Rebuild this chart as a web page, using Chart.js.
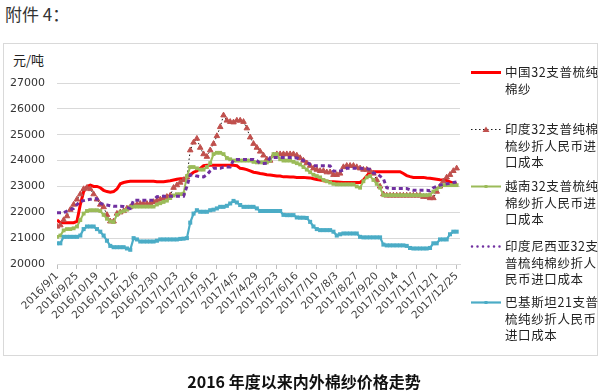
<!DOCTYPE html>
<html><head><meta charset="utf-8">
<script src="https://cdn.jsdelivr.net/npm/chart.js@4.4.0/dist/chart.umd.min.js"></script>
<style>
html,body{margin:0;padding:0;background:#fff;width:601px;height:392px;overflow:hidden;}
#wrap{position:relative;width:601px;height:392px;}
#title{position:absolute;left:5px;top:1px;font:17px "Noto Sans CJK SC";color:#333;white-space:nowrap;}
#box{position:absolute;left:3px;top:43px;width:595px;height:313px;border:1px solid #d9d9d9;box-sizing:border-box;}
#unit{position:absolute;left:13px;top:50px;font:13px "Noto Sans CJK SC";color:#222;}
#chart{position:absolute;left:0;top:0;}
.leg{position:absolute;left:470px;font:12.5px "Noto Sans CJK SC";color:#222;line-height:16.5px;letter-spacing:0.6px;white-space:nowrap;}
.leg svg{position:absolute;left:0;top:4px;}
.leg .t{position:absolute;left:35px;top:0;}
#cap{position:absolute;left:0;width:608px;top:369px;text-align:center;font:bold 16px "Noto Sans CJK SC";color:#111;white-space:nowrap;}
</style></head>
<body><div id="wrap">
<div id="title">附件 4：</div>
<div id="box"></div>
<div id="unit">元/吨</div>
<canvas id="chart" width="601" height="392"></canvas>
<div id="legend"></div>
<div id="cap">2016 年度以来内外棉纱价格走势</div>
</div>
<script>
// x step between samples: 4 calendar days starting 2016/9/1
const STEP = 4;
const tickLabels = ["2016/9/1","2016/9/25","2016/10/19","2016/11/12","2016/12/6","2016/12/30","2017/1/23","2017/2/16","2017/3/12","2017/4/5","2017/4/29","2017/5/23","2017/6/16","2017/7/10","2017/8/3","2017/8/27","2017/9/20","2017/10/14","2017/11/7","2017/12/1","2017/12/25"];
const seriesNames = [
  ["中国32支普梳纯","棉纱"],
  ["印度32支普纯棉","梳纱折人民币进","口成本"],
  ["越南32支普梳纯","棉纱折人民币进","口成本"],
  ["印度尼西亚32支","普梳纯棉纱折人","民币进口成本"],
  ["巴基斯坦21支普","梳纯纱折人民币","进口成本"]
];
const china = [21700,21600,21600,21600,21600,21600,21650,22300,22800,23000,
23050,23000,23000,22950,22850,22800,22780,22800,22900,23100,
23150,23180,23200,23200,23200,23200,23200,23200,23200,23200,
23180,23180,23180,23200,23220,23250,23280,23300,23300,23350,
23450,23550,23600,23700,23800,23820,23820,23820,23820,23820,
23820,23820,23820,23820,23800,23700,23680,23650,23600,23550,
23530,23500,23480,23450,23440,23420,23400,23400,23370,23370,
23360,23360,23350,23350,23350,23340,23330,23300,23270,23250,
23220,23200,23180,23180,23170,23160,23150,23150,23150,23150,
23150,23150,23250,23400,23550,23570,23570,23570,23570,23570,
23570,23570,23570,23570,23500,23420,23380,23350,23350,23350,
23350,23330,23320,23300,23280,23260,23250,23230,23180,23130,
23100];
const india = [21450,21500,21700,21850,22100,22300,22500,22700,22900,22950,
22900,22700,22500,22300,22200,21900,21650,21650,21950,22000,
22050,22150,22200,22250,22300,22330,22330,22330,22330,22400,
22450,22500,22550,22600,22650,22950,23050,23150,23250,23350,
24400,24700,24850,24500,24250,24150,24400,24650,24950,25300,
25750,25550,25500,25480,25550,25550,25500,25250,24900,24650,
24500,24350,24200,24050,24000,24200,24250,24250,24250,24250,
24250,24250,24200,24100,24000,23900,23800,23700,23650,23600,
23600,23550,23550,23450,23450,23500,23750,23800,23800,23800,
23750,23700,23650,23650,23600,23500,23250,23000,22700,22650,
22650,22650,22650,22650,22650,22650,22650,22650,22650,22650,
22600,22600,22550,22550,22800,23000,23200,23350,23450,23600,
23700];
const vietnam = [21050,21100,21300,21350,21350,21380,21450,21700,21950,22050,
22080,22080,22080,22050,21900,21750,21650,21620,21900,22000,
22050,22100,22200,22220,22220,22220,22220,22220,22220,22220,
22300,22350,22400,22450,22550,22650,22700,22700,22720,23400,
23750,23750,23700,23650,23650,23750,23900,24250,24300,24300,
24250,24100,24050,24000,24000,24000,24000,24000,24000,23950,
23930,23930,23930,23930,24000,24250,24250,24050,24000,24000,
24000,23950,23900,23850,23750,23650,23550,23450,23400,23350,
23250,23200,23150,23100,23080,23080,23080,23080,23080,23080,
23000,22950,23200,23350,23400,23250,23100,22950,22660,22660,
22660,22660,22660,22660,22660,22660,22660,22660,22660,22660,
22660,22660,22680,22800,22900,22980,23050,23050,23050,23050,
23050];
const indonesia = [21980,21980,21980,22050,22100,22150,22300,22420,22450,22480,
22500,22520,22520,22350,22300,22280,22250,22230,22230,22230,
22220,22180,22150,22470,22470,22470,22470,22470,22470,22470,
22600,22620,22620,22620,22620,22620,22620,22620,22620,23000,
23440,23440,23400,23380,23370,23450,23600,23700,23700,23700,
23750,23750,23750,24030,24040,24040,24040,24040,24040,24040,
24000,23890,23890,23900,24110,24120,24120,24120,24120,24120,
24120,24120,24100,24050,24000,23950,23850,23800,23800,23800,
23800,23800,23790,23600,23580,23600,23630,23700,23700,23700,
23700,23700,23690,23690,23650,23520,23500,23400,23300,22950,
22920,22920,22920,22920,22920,22920,22870,22850,22850,22850,
22850,22850,22830,22950,23000,23050,23080,23100,23120,23150,
23170];
const pakistan = [20800,20800,21050,21050,21050,21050,21050,21100,21350,21450,
21450,21450,21350,21250,21100,20900,20700,20650,20650,20650,
20650,20600,20550,21000,20950,20870,20870,20870,20870,20870,
20900,20950,20950,20950,20950,20950,20950,20970,20980,21000,
21600,21950,22080,22020,22020,22020,22080,22100,22150,22210,
22210,22250,22340,22440,22380,22280,22210,22210,22210,22210,
22150,22050,22050,22050,22050,22050,22050,22050,21900,21890,
21890,21890,21800,21790,21790,21780,21630,21450,21350,21310,
21310,21310,21310,21250,21100,21150,21180,21180,21180,21180,
21180,21050,21030,21030,21030,21030,21030,21030,20750,20720,
20720,20720,20720,20720,20720,20700,20620,20600,20600,20600,
20600,20600,20620,20800,20800,20950,20950,20950,21150,21250,
21250];

const pts = arr => arr.map((v, i) => ({x: i * STEP, y: v}));
const styles = [
  {borderColor:'#FF0000', borderWidth:3, pointRadius:0, order:5},
  {borderColor:'#1a1a1a', borderWidth:1, borderDash:[1.5,2.5], pointStyle:'triangle', pointRadius:3.2, pointBackgroundColor:'#C0504D', pointBorderColor:'#C0504D', pointBorderWidth:1, order:4},
  {borderColor:'#9BBB59', borderWidth:2, pointStyle:'rect', pointRadius:1.3, pointBackgroundColor:'#9BBB59', pointBorderColor:'#9BBB59', order:3},
  {borderColor:'#7030A0', borderWidth:3, borderDash:[4,3], pointRadius:0, order:2},
  {borderColor:'#4BACC6', borderWidth:2.2, pointStyle:'rect', pointRadius:1.3, pointBackgroundColor:'#4BACC6', pointBorderColor:'#4BACC6', order:1}
];
const values = [china, india, vietnam, indonesia, pakistan];
const datasets = values.map((arr, k) => Object.assign({label: seriesNames[k].join(''), data: pts(arr), tension:0, fill:false}, styles[k]));

const chart = new Chart(document.getElementById('chart'), {
  type: 'line',
  data: {datasets},
  options: {
    responsive:false, animation:false,
    layout:{padding:{left:0, top:83, right:141, bottom:68}},
    plugins:{legend:{display:false}, tooltip:{enabled:false}},
    scales:{
      x:{type:'linear', min:0, max:484,
        afterFit: s => { s.height = 60; },
        ticks:{stepSize:24, includeBounds:false, autoSkip:false, maxRotation:45, minRotation:45,
          callback: v => tickLabels[Math.round(v/24)] || '',
          font:{family:'DejaVu Sans', size:10.5}, color:'#404040', padding:1},
        grid:{drawOnChartArea:false, drawTicks:true, tickLength:5, color:'#bfbfbf'},
        border:{display:true, color:'#d9d9d9'}},
      y:{min:20000, max:27000,
        afterFit: s => { s.width = 57; },
        ticks:{stepSize:1000, callback: v => String(v), font:{family:'DejaVu Sans', size:11}, color:'#333', padding:12},
        grid:{color:'#d9d9d9', drawTicks:false},
        border:{display:false}}
    }
  }
});

// legend built from the dataset styles
const legendTops = [64, 121, 178, 238, 294];
const leg = document.getElementById('legend');
datasets.forEach((ds, k) => {
  const d = document.createElement('div');
  d.className = 'leg';
  d.style.top = legendTops[k] + 'px';
  let svg = '<svg width="32" height="9" xmlns="http://www.w3.org/2000/svg">';
  if (k === 3) {
    svg += `<line x1="2" y1="4.5" x2="31" y2="4.5" stroke="${ds.borderColor}" stroke-width="2.5" stroke-linecap="round" stroke-dasharray="0,5.5"/>`;
  } else {
    const dash = ds.borderDash ? ` stroke-dasharray="${ds.borderDash.join(',')}"` : '';
    svg += `<line x1="1" y1="4.5" x2="31" y2="4.5" stroke="${ds.borderColor}" stroke-width="${ds.borderWidth}"${dash}/>`;
  }
  if (ds.pointStyle === 'triangle') svg += `<polygon points="16,1.5 19.5,7 12.5,7" fill="${ds.pointBackgroundColor}"/>`;
  else if (ds.pointStyle === 'rect' && ds.pointRadius) svg += `<rect x="14.5" y="3" width="3" height="3" fill="${ds.pointBackgroundColor}"/>`;
  svg += '</svg>';
  d.innerHTML = svg + '<div class="t">' + seriesNames[k].join('<br>') + '</div>';
  leg.appendChild(d);
});
</script>
</body></html>
